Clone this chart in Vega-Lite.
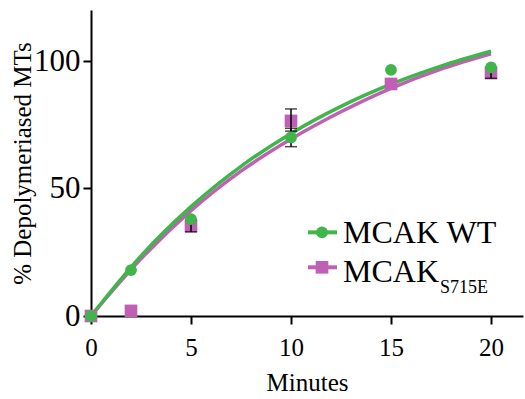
{
  "$schema": "https://vega.github.io/schema/vega-lite/v6.json",
  "width": 432,
  "height": 306,
  "autosize": "none",
  "padding": {"left": 91, "top": 10, "right": 2, "bottom": 83},
  "background": "white",
  "config": {
    "view": {"stroke": null},
    "font": "Liberation Serif"
  },
  "datasets": {
    "points": [
      {"series": "WT", "minutes": 0, "pct": 0},
      {"series": "WT", "minutes": 2, "pct": 18},
      {"series": "WT", "minutes": 5, "pct": 38},
      {"series": "WT", "minutes": 10, "pct": 70},
      {"series": "WT", "minutes": 15, "pct": 96.5},
      {"series": "WT", "minutes": 20, "pct": 97.5},
      {"series": "S715E", "minutes": 0, "pct": 0},
      {"series": "S715E", "minutes": 2, "pct": 2},
      {"series": "S715E", "minutes": 5, "pct": 35.3},
      {"series": "S715E", "minutes": 10, "pct": 76.5},
      {"series": "S715E", "minutes": 15, "pct": 91},
      {"series": "S715E", "minutes": 20, "pct": 95.3}
    ],
    "errors": [
      {"series": "S715E", "minutes": 5, "lo": 33.0, "hi": 37.6},
      {"series": "S715E", "minutes": 10, "lo": 72.5, "hi": 81.2},
      {"series": "WT", "minutes": 10, "lo": 66.4, "hi": 73.6},
      {"series": "S715E", "minutes": 20, "lo": 93.2, "hi": 97.4}
    ],
    "fit": [
      {"series": "WT", "minutes": 0, "pct": 0},
      {"series": "WT", "minutes": 2.5, "pct": 23.6},
      {"series": "WT", "minutes": 5, "pct": 42.9},
      {"series": "WT", "minutes": 7.5, "pct": 58.7},
      {"series": "WT", "minutes": 10, "pct": 71.6},
      {"series": "WT", "minutes": 12.5, "pct": 82.2},
      {"series": "WT", "minutes": 15, "pct": 90.9},
      {"series": "WT", "minutes": 17.5, "pct": 98.0},
      {"series": "WT", "minutes": 20, "pct": 103.8},
      {"series": "S715E", "minutes": 0, "pct": 0},
      {"series": "S715E", "minutes": 2.5, "pct": 22.4},
      {"series": "S715E", "minutes": 5, "pct": 41.3},
      {"series": "S715E", "minutes": 7.5, "pct": 56.8},
      {"series": "S715E", "minutes": 10, "pct": 69.4},
      {"series": "S715E", "minutes": 12.5, "pct": 80.1},
      {"series": "S715E", "minutes": 15, "pct": 89.3},
      {"series": "S715E", "minutes": 17.5, "pct": 96.8},
      {"series": "S715E", "minutes": 20, "pct": 102.8}
    ]
  },
  "layer": [
    {
      "data": {"name": "fit"},
      "transform": [{"filter": "datum.series === 'S715E'"}],
      "mark": {"type": "line", "color": "#c060b4", "strokeWidth": 3.5, "interpolate": "monotone"},
      "encoding": {
        "x": {
          "field": "minutes", "type": "quantitative", "title": "Minutes",
          "scale": {"domain": [0, 21.6], "nice": false, "zero": false},
          "axis": {
            "values": [0, 5, 10, 15, 20], "grid": false,
            "domainColor": "black", "domainWidth": 2,
            "tickColor": "black", "tickWidth": 2, "tickSize": 8,
            "labelFont": "Liberation Serif", "labelFontSize": 25, "labelColor": "black",
            "labelPadding": 11, "labelOverlap": false, "labelFlush": false, "labelBound": false,
            "titleFont": "Liberation Serif", "titleFontSize": 25,
            "titleFontWeight": "normal", "titleColor": "black", "titlePadding": 10
          }
        },
        "y": {
          "field": "pct", "type": "quantitative", "title": "% Depolymeriased MTs",
          "scale": {"domain": [0, 120], "nice": false},
          "axis": {
            "values": [0, 50, 100], "grid": false,
            "domainColor": "black", "domainWidth": 2,
            "tickColor": "black", "tickWidth": 2, "tickSize": 8,
            "labelFont": "Liberation Serif", "labelFontSize": 31, "labelColor": "black",
            "labelPadding": 3, "labelOverlap": false, "labelFlush": false, "labelBound": false,
            "titleFont": "Liberation Serif", "titleFontSize": 25,
            "titleFontWeight": "normal", "titleColor": "black", "titlePadding": -2
          }
        }
      }
    },
    {
      "data": {"name": "fit"},
      "transform": [{"filter": "datum.series === 'WT'"}],
      "mark": {"type": "line", "color": "#40b549", "strokeWidth": 3.5, "interpolate": "monotone"},
      "encoding": {
        "x": {"field": "minutes", "type": "quantitative", "title": "Minutes"},
        "y": {"field": "pct", "type": "quantitative", "title": "% Depolymeriased MTs"}
      }
    },
    {
      "data": {"name": "points"},
      "transform": [{"filter": "datum.series === 'S715E'"}],
      "mark": {"type": "point", "shape": "square", "filled": true, "color": "#c060b4", "opacity": 1, "size": 160},
      "encoding": {
        "x": {"field": "minutes", "type": "quantitative", "title": "Minutes"},
        "y": {"field": "pct", "type": "quantitative", "title": "% Depolymeriased MTs"}
      }
    },
    {
      "data": {"name": "errors"},
      "mark": {"type": "errorbar", "color": "black", "thickness": 1.5, "ticks": {"size": 12, "color": "black", "thickness": 1.5}},
      "encoding": {
        "x": {"field": "minutes", "type": "quantitative", "title": "Minutes"},
        "y": {"field": "lo", "type": "quantitative", "title": "% Depolymeriased MTs"},
        "y2": {"field": "hi"}
      }
    },
    {
      "data": {"name": "points"},
      "transform": [{"filter": "datum.series === 'WT'"}],
      "mark": {"type": "point", "shape": "circle", "filled": true, "color": "#40b549", "opacity": 1, "size": 140},
      "encoding": {
        "x": {"field": "minutes", "type": "quantitative", "title": "Minutes"},
        "y": {"field": "pct", "type": "quantitative", "title": "% Depolymeriased MTs"}
      }
    },
    {
      "data": {"values": [{}]},
      "mark": {"type": "rule", "color": "#40b549", "strokeWidth": 4},
      "encoding": {"x": {"datum": 10.85}, "x2": {"datum": 12.3}, "y": {"datum": 32.8}}
    },
    {
      "data": {"values": [{}]},
      "mark": {"type": "point", "shape": "circle", "filled": true, "color": "#40b549", "opacity": 1, "size": 140},
      "encoding": {"x": {"datum": 11.55}, "y": {"datum": 32.8}}
    },
    {
      "data": {"values": [{}]},
      "mark": {"type": "rule", "color": "#c060b4", "strokeWidth": 4},
      "encoding": {"x": {"datum": 10.85}, "x2": {"datum": 12.3}, "y": {"datum": 19.1}}
    },
    {
      "data": {"values": [{}]},
      "mark": {"type": "point", "shape": "square", "filled": true, "color": "#c060b4", "opacity": 1, "size": 160},
      "encoding": {"x": {"datum": 11.55}, "y": {"datum": 19.1}}
    },
    {
      "data": {"values": [{}]},
      "mark": {"type": "text", "text": "MCAK WT", "font": "Liberation Serif", "fontSize": 32, "color": "black", "align": "left", "baseline": "alphabetic"},
      "encoding": {"x": {"datum": 12.6}, "y": {"datum": 28.5}}
    },
    {
      "data": {"values": [{}]},
      "mark": {"type": "text", "text": "MCAK", "font": "Liberation Serif", "fontSize": 32, "color": "black", "align": "left", "baseline": "alphabetic"},
      "encoding": {"x": {"datum": 12.6}, "y": {"datum": 13.3}}
    },
    {
      "data": {"values": [{}]},
      "mark": {"type": "text", "text": "S715E", "font": "Liberation Serif", "fontSize": 18, "color": "black", "align": "left", "baseline": "alphabetic"},
      "encoding": {"x": {"datum": 17.45}, "y": {"datum": 9.0}}
    }
  ]
}
